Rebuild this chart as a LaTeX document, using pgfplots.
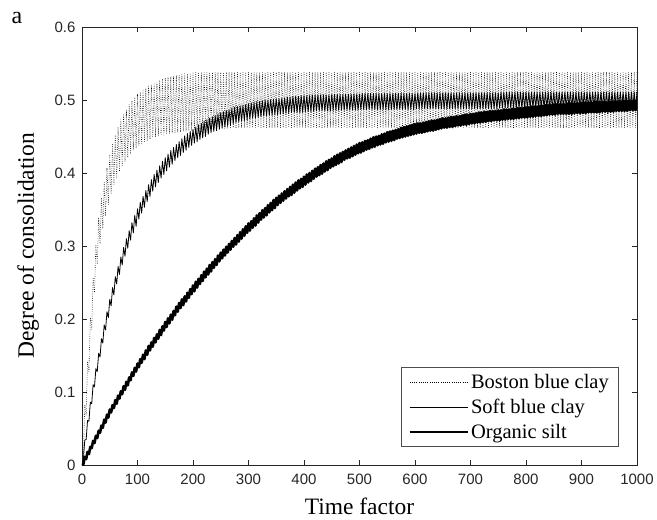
\documentclass[border=0pt]{standalone}
\usepackage{fontspec}
\setmainfont{Liberation Serif}
\newfontfamily\arial{Liberation Sans}
\usepackage{pgfplots}
\pgfplotsset{compat=1.18}
\begin{document}
\begin{tikzpicture}
\begin{axis}[
  scale only axis, width=555pt, height=438pt,
  xmin=0, xmax=1000, ymin=0, ymax=0.6,
  xtick={0,100,...,1000}, ytick={0,0.1,...,0.6},
  tick align=inside, major tick length=5pt,
  axis line style={black!85, line width=0.7pt},
  every tick/.style={black!85, line width=0.7pt},
  /pgf/number format/assume math mode=true,
  /pgf/number format/fixed,
  /pgf/number format/1000 sep={},
  tick label style={font=\arial\fontsize{15}{18}\selectfont, text=black!85},
  xticklabel style={yshift=-5pt},
  yticklabel style={xshift=-3pt},
  xlabel={Time factor}, ylabel={Degree of consolidation},
  label style={font=\fontsize{23.5}{26}\selectfont},
  xlabel style={at={(axis description cs:0.5,-0.094)}, anchor=center},
  ylabel style={at={(axis description cs:-0.097,0.5)}, anchor=center},
  legend cell align=left,
  legend style={at={(axis description cs:0.966,0.041)}, anchor=south east,
    draw=black!70, line width=0.6pt, font=\fontsize{20.5}{22}\selectfont,
    inner xsep=7pt, inner ysep=5pt, row sep=5pt,
    legend image code/.code={\draw[#1] (0pt,0pt) -- (58pt,0pt);}},
]
\addplot[black, line width=0.6pt, dash pattern=on 0.6pt off 1.6pt, line join=round] coordinates {
(0,0)(2.5,0.010)(5,0.082)(7.5,0.068)(10,0.142)(12.5,0.128)(15,0.202)(17.5,0.186)(20,0.257)(22.5,0.236)(25,0.302)(27.5,0.275)(30,0.339)(32.5,0.303)(35,0.366)(37.5,0.323)(40,0.387)(42.5,0.341)(45,0.407)(47.5,0.357)(50,0.425)(52.5,0.371)(55,0.439)(57.5,0.383)(60,0.452)(62.5,0.393)(65,0.463)(67.5,0.402)(70,0.473)(72.5,0.410)(75,0.481)(77.5,0.416)(80,0.487)(82.5,0.421)(85,0.494)(87.5,0.426)(90,0.499)(92.5,0.431)(95,0.504)(97.5,0.434)
(100,0.508)(102.5,0.437)(105,0.511)(107.5,0.440)(110,0.514)(112.5,0.443)(115,0.516)(117.5,0.444)(120,0.519)(122.5,0.446)(125,0.521)(127.5,0.448)(130,0.522)(132.5,0.449)(135,0.524)(137.5,0.450)(140,0.527)(142.5,0.451)(145,0.529)(147.5,0.452)(150,0.530)(152.5,0.453)(155,0.531)(157.5,0.454)(160,0.532)(162.5,0.455)(165,0.533)(167.5,0.455)(170,0.534)(172.5,0.456)(175,0.535)(177.5,0.456)(180,0.535)(182.5,0.457)(185,0.536)(187.5,0.457)(190,0.536)(192.5,0.458)(195,0.537)(197.5,0.458)
(200,0.537)(202.5,0.459)(205,0.538)(207.5,0.459)(210,0.538)(212.5,0.460)(215,0.538)(217.5,0.460)(220,0.538)(222.5,0.460)(225,0.538)(227.5,0.460)(230,0.538)(232.5,0.460)(235,0.538)(237.5,0.460)(240,0.538)(242.5,0.461)(245,0.538)(247.5,0.461)(250,0.538)(252.5,0.461)(255,0.538)(257.5,0.461)(260,0.538)(262.5,0.461)(265,0.538)(267.5,0.462)
(270,0.538)(272.5,0.462)(275,0.538)(277.5,0.462)(280,0.538)(282.5,0.462)(285,0.538)(287.5,0.462)(290,0.538)(292.5,0.462)(295,0.538)(297.5,0.462)
(300,0.538)(302.5,0.462)(305,0.538)(307.5,0.462)(310,0.538)(312.5,0.462)(315,0.538)(317.5,0.462)(320,0.538)(322.5,0.462)(325,0.538)(327.5,0.462)(330,0.538)(332.5,0.462)(335,0.538)(337.5,0.462)(340,0.538)(342.5,0.462)(345,0.538)(347.5,0.462)
(350,0.538)(352.5,0.462)(355,0.538)(357.5,0.462)(360,0.538)(362.5,0.462)(365,0.538)(367.5,0.462)(370,0.538)(372.5,0.462)(375,0.538)(377.5,0.462)(380,0.538)(382.5,0.462)(385,0.538)(387.5,0.462)(390,0.538)(392.5,0.462)(395,0.538)(397.5,0.462)
(400,0.538)(402.5,0.462)(405,0.538)(407.5,0.462)(410,0.538)(412.5,0.462)(415,0.538)(417.5,0.462)(420,0.538)(422.5,0.462)(425,0.538)(427.5,0.462)(430,0.538)(432.5,0.462)(435,0.538)(437.5,0.462)(440,0.538)(442.5,0.462)(445,0.538)(447.5,0.462)
(450,0.538)(452.5,0.462)(455,0.538)(457.5,0.462)(460,0.538)(462.5,0.462)(465,0.538)(467.5,0.462)(470,0.538)(472.5,0.462)(475,0.538)(477.5,0.462)(480,0.538)(482.5,0.462)(485,0.538)(487.5,0.462)(490,0.538)(492.5,0.462)(495,0.538)(497.5,0.462)
(500,0.538)(502.5,0.462)(505,0.538)(507.5,0.462)(510,0.538)(512.5,0.462)(515,0.538)(517.5,0.462)(520,0.538)(522.5,0.462)(525,0.538)(527.5,0.462)(530,0.538)(532.5,0.462)(535,0.538)(537.5,0.462)(540,0.538)(542.5,0.462)(545,0.538)(547.5,0.462)
(550,0.538)(552.5,0.462)(555,0.538)(557.5,0.462)(560,0.538)(562.5,0.462)(565,0.538)(567.5,0.462)(570,0.538)(572.5,0.462)(575,0.538)(577.5,0.462)(580,0.538)(582.5,0.462)(585,0.538)(587.5,0.462)(590,0.538)(592.5,0.462)(595,0.538)(597.5,0.462)
(600,0.538)(602.5,0.462)(605,0.538)(607.5,0.462)(610,0.538)(612.5,0.462)(615,0.538)(617.5,0.462)(620,0.538)(622.5,0.462)(625,0.538)(627.5,0.462)(630,0.538)(632.5,0.462)(635,0.538)(637.5,0.462)(640,0.538)(642.5,0.462)(645,0.538)(647.5,0.462)
(650,0.538)(652.5,0.462)(655,0.538)(657.5,0.462)(660,0.538)(662.5,0.462)(665,0.538)(667.5,0.462)(670,0.538)(672.5,0.462)(675,0.538)(677.5,0.462)(680,0.538)(682.5,0.462)(685,0.538)(687.5,0.462)(690,0.538)(692.5,0.462)(695,0.538)(697.5,0.462)
(700,0.538)(702.5,0.462)(705,0.538)(707.5,0.462)(710,0.538)(712.5,0.462)(715,0.538)(717.5,0.462)(720,0.538)(722.5,0.462)(725,0.538)(727.5,0.462)(730,0.538)(732.5,0.462)(735,0.538)(737.5,0.462)(740,0.538)(742.5,0.462)(745,0.538)(747.5,0.462)
(750,0.538)(752.5,0.462)(755,0.538)(757.5,0.462)(760,0.538)(762.5,0.462)(765,0.538)(767.5,0.462)(770,0.538)(772.5,0.462)(775,0.538)(777.5,0.462)(780,0.538)(782.5,0.462)(785,0.538)(787.5,0.462)(790,0.538)(792.5,0.462)(795,0.538)(797.5,0.462)
(800,0.538)(802.5,0.462)(805,0.538)(807.5,0.462)(810,0.538)(812.5,0.462)(815,0.538)(817.5,0.462)(820,0.538)(822.5,0.462)(825,0.538)(827.5,0.462)(830,0.538)(832.5,0.462)(835,0.538)(837.5,0.462)(840,0.538)(842.5,0.462)(845,0.538)(847.5,0.462)
(850,0.538)(852.5,0.462)(855,0.538)(857.5,0.462)(860,0.538)(862.5,0.462)(865,0.538)(867.5,0.462)(870,0.538)(872.5,0.462)(875,0.538)(877.5,0.462)(880,0.538)(882.5,0.462)(885,0.538)(887.5,0.462)(890,0.538)(892.5,0.462)(895,0.538)(897.5,0.462)
(900,0.538)(902.5,0.462)(905,0.538)(907.5,0.462)(910,0.538)(912.5,0.462)(915,0.538)(917.5,0.462)(920,0.538)(922.5,0.462)(925,0.538)(927.5,0.462)(930,0.538)(932.5,0.462)(935,0.538)(937.5,0.462)(940,0.538)(942.5,0.462)(945,0.538)(947.5,0.462)
(950,0.538)(952.5,0.462)(955,0.538)(957.5,0.462)(960,0.538)(962.5,0.462)(965,0.538)(967.5,0.462)(970,0.538)(972.5,0.462)(975,0.538)(977.5,0.462)(980,0.538)(982.5,0.462)(985,0.538)(987.5,0.462)(990,0.538)(992.5,0.462)(995,0.538)(997.5,0.462)(1000,0.538)
};
\addlegendentry{Boston blue clay}
\addplot[black, line width=0.8pt, line join=round] coordinates {
(0,0)(2.5,0.008)(5,0.034)(7.5,0.035)(10,0.061)(12.5,0.060)(15,0.086)(17.5,0.084)(20,0.110)(22.5,0.107)(25,0.132)(27.5,0.128)(30,0.153)(32.5,0.148)(35,0.173)(37.5,0.167)(40,0.192)(42.5,0.185)(45,0.210)(47.5,0.202)(50,0.227)(52.5,0.218)(55,0.243)(57.5,0.233)(60,0.258)(62.5,0.248)(65,0.272)(67.5,0.261)(70,0.285)(72.5,0.274)(75,0.298)(77.5,0.286)(80,0.310)(82.5,0.297)(85,0.321)(87.5,0.308)(90,0.332)(92.5,0.318)(95,0.342)(97.5,0.327)
(100,0.351)(102.5,0.337)(105,0.360)(107.5,0.345)(110,0.368)(112.5,0.353)(115,0.376)(117.5,0.361)(120,0.384)(122.5,0.368)(125,0.391)(127.5,0.375)(130,0.398)(132.5,0.381)(135,0.404)(137.5,0.387)(140,0.410)(142.5,0.393)(145,0.416)(147.5,0.398)(150,0.421)(152.5,0.403)(155,0.426)(157.5,0.408)(160,0.431)(162.5,0.412)(165,0.435)(167.5,0.417)(170,0.439)(172.5,0.421)(175,0.443)(177.5,0.424)(180,0.447)(182.5,0.428)(185,0.451)(187.5,0.431)(190,0.454)(192.5,0.435)(195,0.457)(197.5,0.438)
(200,0.460)(202.5,0.441)(205,0.463)(207.5,0.443)(210,0.466)(212.5,0.446)(215,0.468)(217.5,0.448)(220,0.471)(222.5,0.450)(225,0.473)(227.5,0.453)(230,0.475)(232.5,0.455)(235,0.477)(237.5,0.457)(240,0.479)(242.5,0.458)(245,0.481)(247.5,0.460)(250,0.483)(252.5,0.462)(255,0.484)(257.5,0.463)(260,0.486)(262.5,0.465)(265,0.487)(267.5,0.466)(270,0.489)(272.5,0.467)(275,0.490)(277.5,0.469)(280,0.491)(282.5,0.470)(285,0.492)(287.5,0.471)(290,0.493)(292.5,0.472)(295,0.494)(297.5,0.473)
(300,0.495)(302.5,0.474)(305,0.496)(307.5,0.475)(310,0.497)(312.5,0.475)(315,0.498)(317.5,0.476)(320,0.498)(322.5,0.477)(325,0.499)(327.5,0.478)(330,0.500)(332.5,0.478)(335,0.500)(337.5,0.479)(340,0.501)(342.5,0.479)(345,0.501)(347.5,0.480)(350,0.502)(352.5,0.480)(355,0.502)(357.5,0.481)(360,0.503)(362.5,0.481)(365,0.503)(367.5,0.482)(370,0.504)(372.5,0.482)(375,0.504)(377.5,0.483)(380,0.505)(382.5,0.483)(385,0.505)(387.5,0.483)(390,0.505)(392.5,0.483)(395,0.506)(397.5,0.483)
(400,0.506)(402.5,0.484)(405,0.506)(407.5,0.484)(410,0.506)(412.5,0.484)(415,0.507)(417.5,0.484)(420,0.507)(422.5,0.485)(425,0.507)(427.5,0.485)(430,0.507)(432.5,0.485)(435,0.507)(437.5,0.485)(440,0.507)(442.5,0.485)(445,0.507)(447.5,0.485)(450,0.508)(452.5,0.486)(455,0.508)(457.5,0.486)(460,0.508)(462.5,0.486)(465,0.508)(467.5,0.486)(470,0.508)(472.5,0.486)(475,0.508)(477.5,0.486)(480,0.508)(482.5,0.486)(485,0.508)(487.5,0.486)(490,0.508)(492.5,0.486)(495,0.508)(497.5,0.486)
(500,0.508)(502.5,0.487)(505,0.509)(507.5,0.487)(510,0.509)(512.5,0.487)(515,0.509)(517.5,0.487)(520,0.509)(522.5,0.487)(525,0.509)(527.5,0.487)(530,0.509)(532.5,0.487)(535,0.509)(537.5,0.487)(540,0.509)(542.5,0.487)(545,0.509)(547.5,0.487)
(550,0.509)(552.5,0.487)(555,0.509)(557.5,0.487)(560,0.509)(562.5,0.487)(565,0.509)(567.5,0.487)(570,0.509)(572.5,0.487)(575,0.509)(577.5,0.487)(580,0.509)(582.5,0.487)(585,0.509)(587.5,0.487)(590,0.509)(592.5,0.487)(595,0.509)(597.5,0.487)
(600,0.509)(602.5,0.488)(605,0.510)(607.5,0.488)(610,0.510)(612.5,0.488)(615,0.510)(617.5,0.488)(620,0.510)(622.5,0.488)(625,0.510)(627.5,0.488)(630,0.510)(632.5,0.488)(635,0.510)(637.5,0.488)(640,0.510)(642.5,0.488)(645,0.510)(647.5,0.488)
(650,0.510)(652.5,0.488)(655,0.510)(657.5,0.488)(660,0.510)(662.5,0.488)(665,0.510)(667.5,0.488)(670,0.510)(672.5,0.488)(675,0.510)(677.5,0.488)(680,0.510)(682.5,0.488)(685,0.510)(687.5,0.488)(690,0.510)(692.5,0.488)(695,0.510)(697.5,0.488)
(700,0.510)(702.5,0.488)(705,0.510)(707.5,0.488)(710,0.510)(712.5,0.488)(715,0.510)(717.5,0.488)(720,0.510)(722.5,0.488)(725,0.510)(727.5,0.488)(730,0.510)(732.5,0.488)(735,0.510)(737.5,0.488)(740,0.510)(742.5,0.488)(745,0.510)(747.5,0.488)
(750,0.510)(752.5,0.489)(755,0.511)(757.5,0.489)(760,0.511)(762.5,0.489)(765,0.511)(767.5,0.489)(770,0.511)(772.5,0.489)(775,0.511)(777.5,0.489)(780,0.511)(782.5,0.489)(785,0.511)(787.5,0.489)(790,0.511)(792.5,0.489)(795,0.511)(797.5,0.489)
(800,0.511)(802.5,0.489)(805,0.511)(807.5,0.489)(810,0.511)(812.5,0.489)(815,0.511)(817.5,0.489)(820,0.511)(822.5,0.489)(825,0.511)(827.5,0.489)(830,0.511)(832.5,0.489)(835,0.511)(837.5,0.489)(840,0.511)(842.5,0.489)(845,0.511)(847.5,0.489)
(850,0.511)(852.5,0.489)(855,0.511)(857.5,0.489)(860,0.511)(862.5,0.489)(865,0.511)(867.5,0.489)(870,0.511)(872.5,0.489)(875,0.511)(877.5,0.489)(880,0.511)(882.5,0.489)(885,0.511)(887.5,0.489)(890,0.511)(892.5,0.489)(895,0.511)(897.5,0.489)
(900,0.511)(902.5,0.489)(905,0.511)(907.5,0.489)(910,0.511)(912.5,0.489)(915,0.511)(917.5,0.489)(920,0.511)(922.5,0.489)(925,0.511)(927.5,0.489)(930,0.511)(932.5,0.489)(935,0.511)(937.5,0.489)(940,0.511)(942.5,0.489)(945,0.511)(947.5,0.489)
(950,0.511)(952.5,0.489)(955,0.511)(957.5,0.489)(960,0.511)(962.5,0.489)(965,0.511)(967.5,0.489)(970,0.511)(972.5,0.489)(975,0.511)(977.5,0.489)(980,0.511)(982.5,0.489)(985,0.511)(987.5,0.489)(990,0.511)(992.5,0.489)(995,0.511)(997.5,0.489)(1000,0.511)
};
\addlegendentry{Soft blue clay}
\addplot[black, line width=2.6pt, line join=round] coordinates {
(0,0)(2.5,0.001)(5,0.011)(7.5,0.008)(10,0.018)(12.5,0.015)(15,0.025)(17.5,0.023)(20,0.033)(22.5,0.030)(25,0.040)(27.5,0.037)(30,0.047)(32.5,0.044)(35,0.054)(37.5,0.051)(40,0.062)(42.5,0.058)(45,0.069)(47.5,0.065)(50,0.076)(52.5,0.072)(55,0.082)(57.5,0.078)(60,0.089)(62.5,0.084)(65,0.095)(67.5,0.091)(70,0.101)(72.5,0.097)(75,0.108)(77.5,0.103)(80,0.114)(82.5,0.109)(85,0.120)(87.5,0.116)(90,0.127)(92.5,0.122)(95,0.133)(97.5,0.128)
(100,0.139)(102.5,0.134)(105,0.145)(107.5,0.140)(110,0.151)(112.5,0.145)(115,0.157)(117.5,0.151)(120,0.163)(122.5,0.157)(125,0.168)(127.5,0.162)(130,0.174)(132.5,0.168)(135,0.179)(137.5,0.173)(140,0.185)(142.5,0.178)(145,0.190)(147.5,0.184)(150,0.196)(152.5,0.189)(155,0.201)(157.5,0.194)(160,0.206)(162.5,0.199)(165,0.211)(167.5,0.205)(170,0.217)(172.5,0.210)(175,0.222)(177.5,0.215)(180,0.227)(182.5,0.219)(185,0.231)(187.5,0.224)(190,0.236)(192.5,0.229)(195,0.241)(197.5,0.234)
(200,0.246)(202.5,0.238)(205,0.251)(207.5,0.243)(210,0.255)(212.5,0.248)(215,0.260)(217.5,0.252)(220,0.265)(222.5,0.257)(225,0.269)(227.5,0.261)(230,0.274)(232.5,0.265)(235,0.278)(237.5,0.270)(240,0.282)(242.5,0.274)(245,0.287)(247.5,0.279)(250,0.291)(252.5,0.283)(255,0.295)(257.5,0.287)(260,0.299)(262.5,0.291)(265,0.303)(267.5,0.295)(270,0.307)(272.5,0.299)(275,0.311)(277.5,0.302)(280,0.315)(282.5,0.306)(285,0.319)(287.5,0.310)(290,0.323)(292.5,0.314)(295,0.327)(297.5,0.318)
(300,0.331)(302.5,0.321)(305,0.334)(307.5,0.325)(310,0.338)(312.5,0.328)(315,0.342)(317.5,0.332)(320,0.345)(322.5,0.336)(325,0.349)(327.5,0.339)(330,0.352)(332.5,0.342)(335,0.356)(337.5,0.346)(340,0.359)(342.5,0.349)(345,0.363)(347.5,0.352)(350,0.366)(352.5,0.356)(355,0.369)(357.5,0.359)(360,0.372)(362.5,0.362)(365,0.375)(367.5,0.365)(370,0.378)(372.5,0.368)(375,0.381)(377.5,0.370)(380,0.384)(382.5,0.373)(385,0.387)(387.5,0.376)(390,0.390)(392.5,0.379)(395,0.392)(397.5,0.381)
(400,0.395)(402.5,0.384)(405,0.398)(407.5,0.387)(410,0.400)(412.5,0.389)(415,0.403)(417.5,0.392)(420,0.406)(422.5,0.395)(425,0.408)(427.5,0.397)(430,0.411)(432.5,0.399)(435,0.413)(437.5,0.402)(440,0.416)(442.5,0.404)(445,0.418)(447.5,0.407)(450,0.420)(452.5,0.409)(455,0.423)(457.5,0.411)(460,0.425)(462.5,0.413)(465,0.427)(467.5,0.415)(470,0.429)(472.5,0.418)(475,0.431)(477.5,0.420)(480,0.433)(482.5,0.421)(485,0.435)(487.5,0.423)(490,0.437)(492.5,0.425)(495,0.439)(497.5,0.427)
(500,0.441)(502.5,0.428)(505,0.442)(507.5,0.430)(510,0.444)(512.5,0.432)(515,0.445)(517.5,0.433)(520,0.447)(522.5,0.435)(525,0.449)(527.5,0.436)(530,0.450)(532.5,0.438)(535,0.451)(537.5,0.439)(540,0.453)(542.5,0.440)(545,0.454)(547.5,0.442)(550,0.456)(552.5,0.443)(555,0.457)(557.5,0.444)(560,0.458)(562.5,0.445)(565,0.459)(567.5,0.447)(570,0.460)(572.5,0.448)(575,0.462)(577.5,0.449)(580,0.463)(582.5,0.450)(585,0.464)(587.5,0.451)(590,0.465)(592.5,0.452)(595,0.466)(597.5,0.453)
(600,0.467)(602.5,0.454)(605,0.468)(607.5,0.455)(610,0.468)(612.5,0.455)(615,0.469)(617.5,0.456)(620,0.470)(622.5,0.457)(625,0.471)(627.5,0.458)(630,0.472)(632.5,0.458)(635,0.472)(637.5,0.459)(640,0.473)(642.5,0.460)(645,0.474)(647.5,0.461)(650,0.475)(652.5,0.462)(655,0.475)(657.5,0.462)(660,0.476)(662.5,0.463)(665,0.477)(667.5,0.463)(670,0.477)(672.5,0.464)(675,0.478)(677.5,0.465)(680,0.478)(682.5,0.465)(685,0.479)(687.5,0.466)(690,0.480)(692.5,0.466)(695,0.480)(697.5,0.467)
(700,0.481)(702.5,0.468)(705,0.481)(707.5,0.468)(710,0.482)(712.5,0.469)(715,0.483)(717.5,0.469)(720,0.483)(722.5,0.470)(725,0.484)(727.5,0.470)(730,0.484)(732.5,0.471)(735,0.485)(737.5,0.471)(740,0.485)(742.5,0.472)(745,0.485)(747.5,0.472)(750,0.486)(752.5,0.472)(755,0.486)(757.5,0.473)(760,0.487)(762.5,0.473)(765,0.487)(767.5,0.474)(770,0.487)(772.5,0.474)(775,0.488)(777.5,0.474)(780,0.488)(782.5,0.475)(785,0.489)(787.5,0.475)(790,0.489)(792.5,0.476)(795,0.489)(797.5,0.476)
(800,0.490)(802.5,0.476)(805,0.490)(807.5,0.477)(810,0.491)(812.5,0.477)(815,0.491)(817.5,0.478)(820,0.491)(822.5,0.478)(825,0.492)(827.5,0.478)(830,0.492)(832.5,0.479)(835,0.493)(837.5,0.479)(840,0.493)(842.5,0.480)(845,0.493)(847.5,0.480)(850,0.494)(852.5,0.480)(855,0.494)(857.5,0.481)(860,0.494)(862.5,0.481)(865,0.494)(867.5,0.481)(870,0.494)(872.5,0.481)(875,0.495)(877.5,0.481)(880,0.495)(882.5,0.481)(885,0.495)(887.5,0.482)(890,0.495)(892.5,0.482)(895,0.495)(897.5,0.482)
(900,0.496)(902.5,0.482)(905,0.496)(907.5,0.482)(910,0.496)(912.5,0.483)(915,0.496)(917.5,0.483)(920,0.496)(922.5,0.483)(925,0.497)(927.5,0.483)(930,0.497)(932.5,0.483)(935,0.497)(937.5,0.484)(940,0.497)(942.5,0.484)(945,0.497)(947.5,0.484)(950,0.498)(952.5,0.484)(955,0.498)(957.5,0.484)(960,0.498)(962.5,0.485)(965,0.498)(967.5,0.485)(970,0.498)(972.5,0.485)(975,0.499)(977.5,0.485)(980,0.499)(982.5,0.485)(985,0.499)(987.5,0.486)(990,0.499)(992.5,0.486)(995,0.499)(997.5,0.486)(1000,0.500)
};
\addlegendentry{Organic silt}
\end{axis}
\node[font=\fontsize{24}{24}\selectfont] at (-65pt,447pt) {a};
\pgfresetboundingbox
\path[use as bounding box] (-82pt,-55pt) rectangle (575pt,465pt);
\end{tikzpicture}
\end{document}
